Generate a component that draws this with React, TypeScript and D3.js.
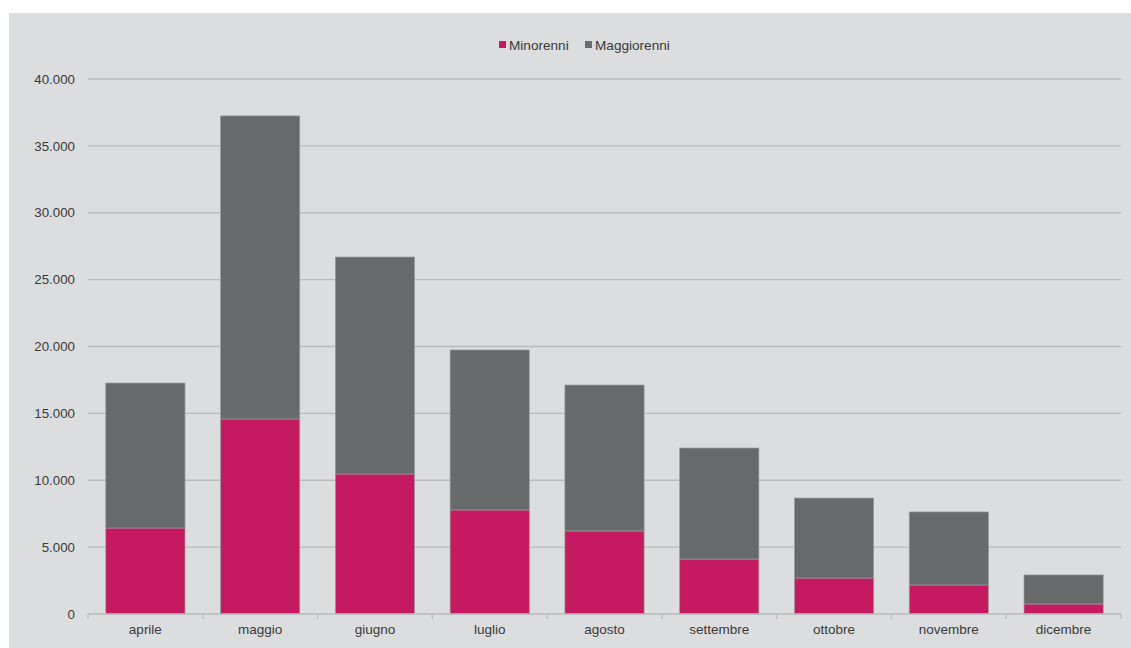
import React from "react";
import * as d3 from "d3";

const categories = ["aprile", "maggio", "giugno", "luglio", "agosto", "settembre", "ottobre", "novembre", "dicembre"];
const minorenni = [6430, 14580, 10470, 7780, 6210, 4110, 2690, 2170, 750];
const totali = [17270, 37240, 26690, 19740, 17120, 12410, 8670, 7630, 2920];
const maggiorenni = totali.map((t, i) => t - minorenni[i]);
const yTicks = [0, 5000, 10000, 15000, 20000, 25000, 30000, 35000, 40000];
const seriesNames = ["Minorenni", "Maggiorenni"];

const W = 1131;
const H = 648;
const left = 88;
const right = 1121;
const top = 79;
const bottom = 614;
const colors = ["#C51A62", "#666A6A"];

export default function App() {
  const x = d3.scaleBand<string>().domain(categories).range([left, right]).paddingInner(0.31).paddingOuter(0.155);
  const y = d3.scaleLinear().domain([0, 40000]).range([bottom, top]);
  const fmt = (v: number) => (v === 0 ? "0" : d3.format(",")(v).replace(/,/g, "."));
  const band = (right - left) / categories.length;
  const font = "'Liberation Sans', Arial, sans-serif";

  const stack = d3.stack<any>().keys(["min", "mag"])(
    categories.map((c, i) => ({ cat: c, min: minorenni[i], mag: maggiorenni[i] }))
  );

  return (
    <svg width={W} height={H} style={{ position: "absolute", left: 0, top: 0 }} fontFamily={font}>
      <rect x={0} y={0} width={W} height={H} fill="#ffffff" />
      <rect x={9} y={13} width={W - 9} height={H - 13} fill="#DCDDDF" />
      {yTicks.map((t) => (
        <g key={t}>
          {t > 0 && <line x1={left} x2={right} y1={y(t)} y2={y(t)} stroke="#B9BABC" strokeWidth={1.3} />}
          <text x={75} y={y(t)} dy="0.35em" textAnchor="end" fontSize={13.3} fill="#3a3a3a">
            {fmt(t)}
          </text>
        </g>
      ))}
      {stack.map((s, si) =>
        s.map((d, i) => (
          <rect
            key={si + "-" + i}
            x={x(categories[i])}
            width={x.bandwidth()}
            y={y(d[1])}
            height={y(d[0]) - y(d[1])}
            fill={colors[si]}
            stroke="#9A9C9D"
            strokeWidth={0.7}
          />
        ))
      )}
      <line x1={left} x2={right} y1={bottom} y2={bottom} stroke="#B9BABC" strokeWidth={1.3} />
      {d3.range(categories.length + 1).map((i) => (
        <line key={i} x1={left + i * band} x2={left + i * band} y1={bottom} y2={bottom + 5} stroke="#B9BABC" strokeWidth={1.3} />
      ))}
      {categories.map((c) => (
        <text key={c} x={(x(c) as number) + x.bandwidth() / 2} y={634} textAnchor="middle" fontSize={13.5} fill="#3a3a3a">
          {c}
        </text>
      ))}
      <g>
        <rect x={499} y={41} width={7} height={7} fill={colors[0]} />
        <text x={509} y={45} dy="0.35em" fontSize={13.6} fill="#3a3a3a">{seriesNames[0]}</text>
        <rect x={585} y={41} width={7} height={7} fill={colors[1]} />
        <text x={595} y={45} dy="0.35em" fontSize={13.6} fill="#3a3a3a">{seriesNames[1]}</text>
      </g>
    </svg>
  );
}
